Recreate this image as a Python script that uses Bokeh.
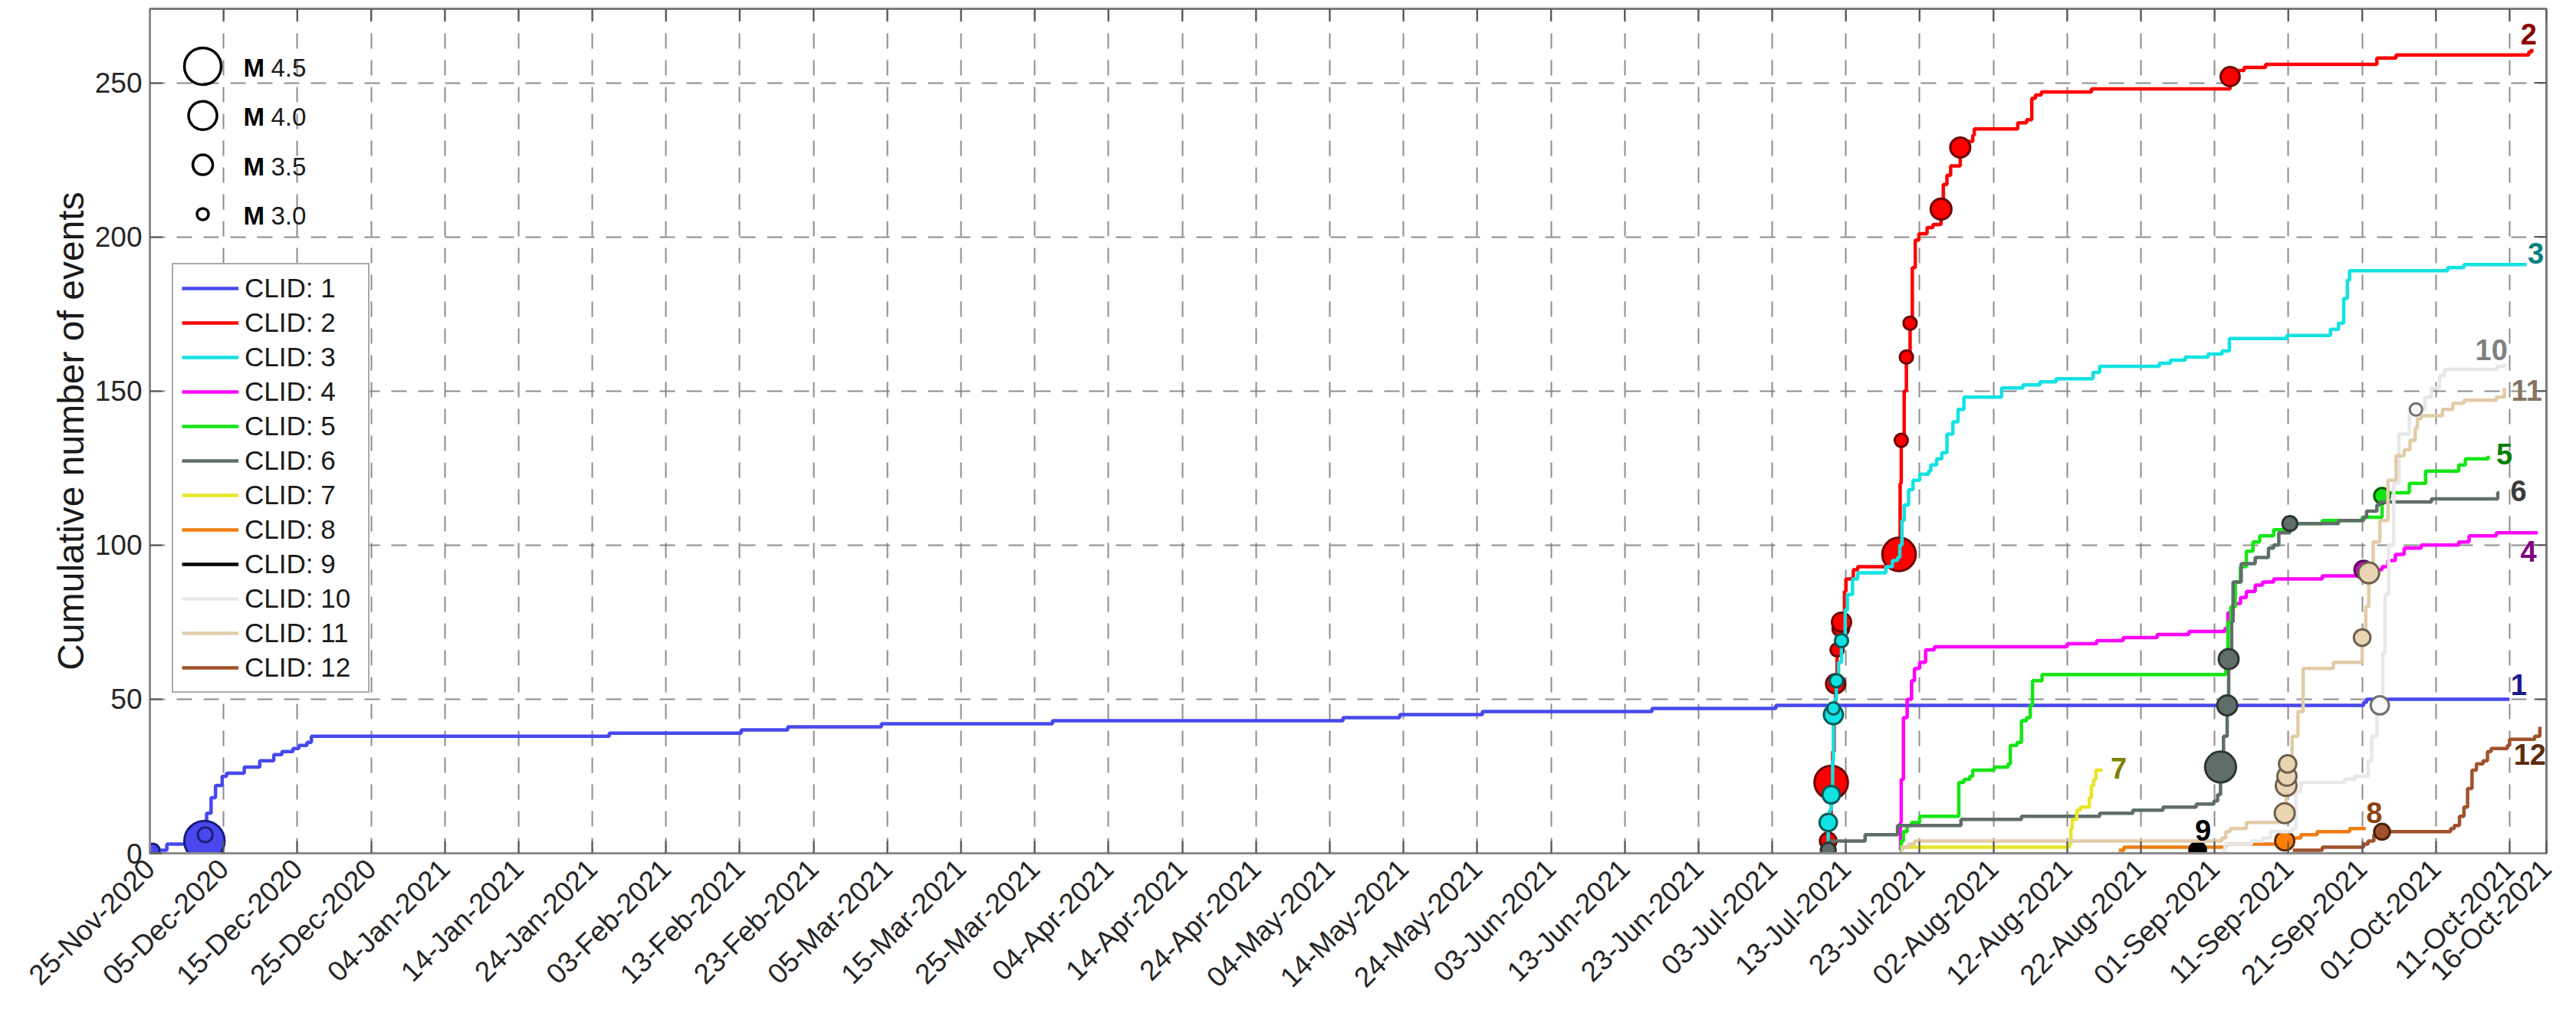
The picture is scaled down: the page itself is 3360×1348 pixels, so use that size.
import math
from datetime import date, timedelta
from bokeh.plotting import figure
from bokeh.models import Range1d, FixedTicker, Legend, LegendItem, Label
from bokeh.embed import file_html
from bokeh.resources import INLINE
from bokeh.core.properties import value

# ---------------- data (days since 25-Nov-2020, cumulative counts) ----------------
START = date(2020, 11, 25)
tick_days = list(range(0, 321, 10)) + [325]
y_ticks = [0, 50, 100, 150, 200, 250]

c1_day = [0.4, 2.3, 7.3, 7.5, 7.7, 8.3, 8.9, 9.8, 10.4, 12.8, 14.9, 16.8, 17.9, 19.4, 20.2, 21.3, 21.9,
          62.3, 80.2, 86.5, 99.2, 122.4, 161.8, 169.5, 180.7, 203.7, 220.5, 300.2, 300.6, 320.0]
c1_cnt = [1, 3, 4, 6, 13, 18, 22, 25, 26, 28, 30, 32, 33, 34, 35, 36, 38,
          39, 40, 41, 42, 43, 44, 45, 46, 47, 48, 49, 50, 50]

c2_day = [227.4, 227.5, 227.6, 227.8, 228.0, 228.2, 228.4, 228.6, 228.8, 229.1, 229.4, 229.8, 230.0, 231.0,
          231.6, 236.4, 237.2, 237.35, 237.5, 237.9, 238.2, 238.7, 239.0, 239.4, 239.9, 241.0, 241.8, 242.9,
          243.2, 243.7, 244.2, 245.5, 246.5, 247.2, 247.4, 253.3, 254.5, 255.2, 255.7, 256.5, 263.3, 282.1,
          282.6, 284.0, 286.9, 302.0, 304.6, 322.6, 323.0]
c2_cnt = [1, 2, 4, 10, 23, 33, 45, 55, 66, 70, 75, 85, 89, 92,
          93, 95, 97, 120, 134, 150, 161, 172, 190, 199, 201, 203, 204, 209,
          217, 220, 223, 229, 231, 233, 235, 237, 238, 245, 246, 247, 248, 252,
          254, 255, 256, 258, 259, 260, 261]

c3_day = [227.5, 227.6, 227.8, 228.0, 228.2, 228.3, 228.5, 228.7, 229.0, 229.4, 229.9, 230.2, 230.9, 231.6,
          235.4, 236.3, 237.0, 237.3, 237.6, 237.9, 238.5, 239.1, 240.0, 241.2, 241.5, 242.3, 243.0, 243.7,
          244.5, 245.2, 246.0, 251.1, 254.0, 256.3, 258.5, 263.5, 264.4, 272.5, 274.0, 276.0, 279.1, 281.0,
          282.0, 289.8, 295.7, 296.8, 297.5, 298.0, 298.3, 311.6, 313.8, 322.3]
c3_cnt = [1, 10, 14, 19, 30, 45, 50, 56, 62, 69, 79, 84, 89, 91,
          93, 95, 96, 100, 108, 113, 118, 121, 123, 124, 126, 128, 130, 136,
          140, 144, 148, 151, 152, 153, 154, 156, 158, 159, 160, 161, 162, 163,
          167, 168, 170, 172, 180, 186, 189, 190, 191, 191]

c4_day = [237.3, 237.4, 237.5, 237.8, 238.3, 238.9, 239.3, 240.0, 240.8, 242.0, 260.0, 264.0, 267.6, 272.2,
          276.5, 279.0, 281.4, 281.8, 282.5, 283.5, 284.3, 285.5, 286.5, 288.0, 294.6, 299.4, 300.0, 302.7,
          303.5, 304.5, 305.7, 308.0, 313.1, 314.5, 318.2, 323.8]
c4_cnt = [1, 10, 24, 44, 50, 56, 60, 62, 66, 67, 68, 69, 70, 71,
          72, 72, 73, 78, 81, 83, 85, 87, 88, 89, 90, 91, 92, 93,
          95, 97, 99, 100, 101, 103, 104, 104]

c5_day = [237.3, 237.5, 237.8, 238.3, 238.9, 240.0, 245.3, 246.0, 246.8, 247.2, 250.1, 252.0, 252.3, 253.2,
          253.8, 254.5, 255.0, 255.3, 256.6, 281.5, 281.8, 282.2, 282.8, 283.5, 284.3, 285.2, 286.1, 288.0,
          289.5, 294.6, 300.0, 302.7, 303.5, 306.4, 308.6, 313.1, 314.0, 317.1]
c5_cnt = [1, 4, 7, 9, 10, 12, 23, 24, 25, 27, 28, 29, 35, 36,
          43, 44, 48, 56, 58, 62, 75, 80, 88, 93, 98, 101, 103, 105,
          107, 108, 109, 116, 117, 120, 124, 126, 128, 129]

c6_day = [227.6, 227.8, 232.6, 237.0, 245.6, 253.8, 264.4, 268.9, 273.0, 277.5, 279.9, 280.4, 280.8, 281.2,
          281.7, 281.9, 282.3, 282.5, 283.6, 285.5, 287.3, 288.0, 288.7, 290.2, 296.8, 300.2, 300.6, 302.0,
          302.4, 309.4, 318.4, 318.6]
c6_cnt = [1, 4, 6, 9, 11, 12, 13, 14, 15, 16, 17, 19, 28, 38,
          48, 63, 75, 88, 94, 96, 99, 100, 104, 107, 108, 109, 111, 113,
          114, 115, 117, 117]

c7_day = [237.4, 260.3, 260.5, 260.7, 261.3, 261.8, 263.0, 263.3, 263.6, 263.9, 264.8]
c7_cnt = [2, 3, 8, 11, 14, 15, 18, 22, 24, 27, 27]

c8_day = [267.0, 267.7, 281.5, 289.5, 290.5, 291.7, 293.9, 298.3, 300.5]
c8_cnt = [1, 2, 3, 4, 5, 6, 7, 8, 8]

c9_day = [277.7]
c9_cnt = [1]

c10_day = [281.0, 281.4, 285.0, 286.5, 287.6, 290.5, 291.0, 291.7, 297.6, 299.0, 300.8, 301.3, 302.0, 302.4,
           302.8, 303.1, 303.6, 304.3, 305.0, 306.4, 307.3, 308.5, 309.4, 310.5, 311.2, 318.3, 319.3]
c10_cnt = [1, 3, 4, 5, 7, 8, 20, 23, 24, 25, 30, 38, 47, 48,
           65, 84, 100, 120, 136, 143, 144, 148, 151, 155, 157, 158, 159]

c11_day = [237.4, 237.7, 238.5, 239.3, 281.0, 281.5, 282.1, 284.3, 288.7, 289.5, 289.7, 289.8, 289.9, 290.5,
           291.3, 292.0, 296.1, 300.0, 300.5, 300.9, 301.5, 302.4, 303.5, 304.6, 305.7, 306.5, 307.2, 307.5,
           308.0, 310.9, 312.3, 313.8, 318.2, 319.3]
c11_cnt = [1, 2, 3, 4, 5, 7, 8, 10, 11, 13, 22, 25, 29, 38,
           46, 60, 62, 70, 80, 91, 101, 108, 121, 129, 131, 134, 138, 141,
           142, 144, 146, 147, 148, 151]

c12_day = [290.6, 294.6, 300.2, 300.8, 301.6, 302.7, 312.0, 312.5, 313.2, 313.8, 314.3, 314.9, 315.5, 316.4,
           317.0, 317.5, 319.7, 320.0, 323.4, 324.1]
c12_cnt = [1, 2, 3, 4, 6, 7, 8, 9, 12, 15, 21, 27, 29, 30,
           33, 34, 35, 37, 38, 41]

# large events (M >= 3) plotted as circles on the curves
ev_clid = [1, 1, 1,
           2, 2, 2, 2, 2, 2, 2, 2, 2, 2, 2, 2, 2,
           3, 3, 3, 3, 3, 3,
           4, 5,
           6, 6, 6, 6, 6,
           8, 9,
           10, 10,
           11, 11, 11, 11, 11, 11,
           12]
ev_day = [0.4, 7.4, 7.5,
          227.6, 228.0, 228.6, 228.8, 229.3, 229.4, 237.2, 237.5, 238.2, 238.7, 242.9, 245.5, 282.1,
          227.6, 228.0, 228.3, 228.3, 228.7, 229.4,
          300.2, 302.7,
          227.6, 280.8, 281.7, 281.9, 290.2,
          289.5, 277.7,
          302.4, 307.3,
          289.5, 289.7, 289.8, 289.9, 300.0, 300.9,
          302.7]
ev_cnt = [1, 4, 6,
          4, 23, 55, 66, 73, 75, 97, 134, 161, 172, 209, 229, 252,
          10, 19, 45, 47, 56, 69,
          92, 116,
          1, 28, 48, 63, 107,
          4, 1,
          48, 144,
          13, 22, 25, 29, 70, 91,
          7]
ev_mag = [3.1, 4.7, 3.2,
          3.3, 4.3, 3.45, 3.1, 3.3, 3.45, 4.3, 3.1, 3.1, 3.1, 3.55, 3.5, 3.45,
          3.35, 3.35, 3.45, 3.05, 3.1, 3.1,
          3.4, 3.25,
          3.2, 4.15, 3.5, 3.5, 3.2,
          3.45, 3.3,
          3.4, 3.05,
          3.5, 3.55, 3.45, 3.35, 3.3, 3.55,
          3.25]

legend_mags = [4.5, 4.0, 3.5, 3.0]

series_days = [c1_day, c2_day, c3_day, c4_day, c5_day, c6_day, c7_day, c8_day, c9_day, c10_day, c11_day, c12_day]
series_cnts = [c1_cnt, c2_cnt, c3_cnt, c4_cnt, c5_cnt, c6_cnt, c7_cnt, c8_cnt, c9_cnt, c10_cnt, c11_cnt, c12_cnt]

# ---------------- styles ----------------
line_col = ["#4848EE", "#FF0000", "#12E2E2", "#FF00FF", "#14E614", "#5F6E68",
            "#E6E62A", "#F07C10", "#000000", "#E8E8E8", "#E2CCA8", "#A0522D"]
mk_fill = ["#4848EE", "#FF0000", "#12E2E2", "#C800C8", "#14E614", "#5F6E68",
           "#E6E62A", "#FF8000", "#000000", "#F8F8F8", "#EAD5B2", "#A0522D"]
mk_edge = ["#1C1C7A", "#6A0000", "#005A5A", "#5A005A", "#005A00", "#2E3532",
           "#6A6A00", "#5A2C00", "#000000", "#707070", "#6E6050", "#4A2208"]
lab_col = ["#1A1A8C", "#8B0000", "#008080", "#800080", "#008000", "#3C3C3C",
           "#808000", "#8B4513", "#000000", "#808080", "#857560", "#5C2E0E"]
# label offsets (screen px, right / up) from each curve's end point
lab_dx = [12, -4, 12, -12, 21, 25, 21, 11, 7, -17, 29, -13]
lab_dy = [19, 19, 15, -24, 2, 2, 2, 21, 26, 18, -3, -36]

FONT = "Liberation Sans"
W, H = 3344, 1332
ML, MR, MT, MB = 195, 23, 11, 219
FRAME_W, FRAME_H = W - ML - MR, H - MT - MB
X0, X1, Y0, Y1 = 0, 325, 0, 274
TICK_PX = 16


def msize(m):
    return 15 + 22 * (m - 3.0)


def px_x(px):
    return X0 + px * (X1 - X0) / FRAME_W


def px_y(py):
    return Y1 - py * (Y1 - Y0) / FRAME_H


p = figure(width=W, height=H, output_backend="svg", toolbar_location=None,
           x_range=Range1d(X0, X1), y_range=Range1d(Y0, Y1),
           min_border_left=ML, min_border_right=MR, min_border_top=MT, min_border_bottom=MB,
           background_fill_color="white", border_fill_color="white")
p.outline_line_color = "#7A7A7A"
p.outline_line_width = 3

# axes
p.xaxis.ticker = FixedTicker(ticks=tick_days)
p.xaxis.major_label_overrides = {d: (START + timedelta(days=d)).strftime("%d-%b-%Y") for d in tick_days}
p.xaxis.major_label_orientation = math.pi / 4
p.yaxis.ticker = FixedTicker(ticks=y_ticks)
for ax in (p.xaxis[0], p.yaxis[0]):
    ax.major_label_text_font = FONT
    ax.major_label_text_font_size = "37px"
    ax.major_label_text_color = "#262626"
    ax.major_tick_in = TICK_PX
    ax.major_tick_out = 0
    ax.minor_tick_line_color = None
    ax.major_tick_line_color = "#555555"
    ax.major_tick_line_width = 2
    ax.axis_line_color = "#8C8C8C"
    ax.axis_line_width = 3
p.xaxis.major_label_standoff = 14
p.yaxis.major_label_standoff = 10
p.yaxis.axis_label = "Cumulative number of events"
p.yaxis.axis_label_text_font = FONT
p.yaxis.axis_label_text_font_size = "48px"
p.yaxis.axis_label_text_font_style = "normal"
p.yaxis.axis_label_text_color = "#1A1A1A"
p.yaxis.axis_label_standoff = 2

# inward box ticks on top and right edges
p.segment(x0=tick_days, y0=[Y1] * len(tick_days), x1=tick_days,
          y1=[px_y(TICK_PX)] * len(tick_days), line_color="#555555", line_width=2)
p.segment(x0=[X1] * len(y_ticks), y0=y_ticks, x1=[px_x(FRAME_W - TICK_PX)] * len(y_ticks),
          y1=y_ticks, line_color="#555555", line_width=2)

for g in (p.xgrid[0], p.ygrid[0]):
    g.grid_line_color = "#7F7F7F"
    g.grid_line_width = 2
    g.grid_line_dash = "20 15"
    g.grid_line_alpha = 0.9
p.ygrid.ticker = FixedTicker(ticks=y_ticks)

# curves + event markers
items = []
for i in range(12):
    clid = i + 1
    if len(series_days[i]) > 1:
        r = p.step(series_days[i], series_cnts[i], mode="after", line_color=line_col[i], line_width=4.5)
    else:
        r = p.line(series_days[i], series_cnts[i], line_color=line_col[i], line_width=4.5)
    items.append(LegendItem(label=f"CLID: {clid}", renderers=[r]))
    idx = [k for k, c in enumerate(ev_clid) if c == clid]
    if idx:
        p.scatter([ev_day[k] for k in idx], [ev_cnt[k] for k in idx],
                  size=[msize(ev_mag[k]) for k in idx], marker="circle",
                  fill_color=mk_fill[i], line_color=mk_edge[i], line_width=3)

# curve end labels
for i in range(12):
    p.add_layout(Label(x=series_days[i][-1], y=series_cnts[i][-1], text=str(i + 1),
                       x_offset=lab_dx[i], y_offset=lab_dy[i],
                       text_font=FONT, text_font_size="38px", text_font_style="bold",
                       text_color=lab_col[i], text_align="center", text_baseline="middle"))

legend = Legend(items=items, location=(29, 209), label_text_font=FONT, label_text_font_size="35px",
                label_text_color="#1A1A1A", glyph_width=74, glyph_height=40, label_height=40,
                label_width=150, label_standoff=8, spacing=5, padding=11, margin=0,
                border_line_color="#555555", border_line_width=2, background_fill_alpha=1.0)
p.add_layout(legend)

# magnitude size legend (screen-placed)
leg_rows = [75 + 64.3 * k for k in range(len(legend_mags))]
p.scatter([px_x(69)] * 4, [px_y(r) for r in leg_rows], size=[msize(m) for m in legend_mags],
          marker="circle", fill_color=None, line_color="black", line_width=3.5)
p.text([px_x(122)] * 4, [px_y(r + 2) for r in leg_rows], text=["M"] * 4,
       text_font=value(FONT), text_font_size="33px", text_font_style="bold",
       text_align="left", text_baseline="middle", text_color="black")
p.text([px_x(158)] * 4, [px_y(r + 2) for r in leg_rows], text=[f"{m:.1f}" for m in legend_mags],
       text_font=value(FONT), text_font_size="33px",
       text_align="left", text_baseline="middle", text_color="#1A1A1A")

open("out.html", "w").write(file_html(p, INLINE))
